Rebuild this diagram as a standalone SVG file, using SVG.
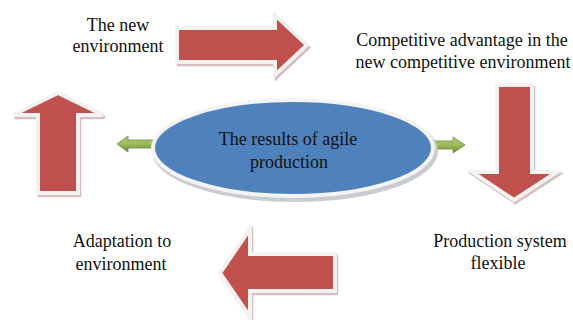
<svg xmlns="http://www.w3.org/2000/svg" width="573" height="320" viewBox="0 0 573 320">
<style>
.lbl{font-family:"Liberation Serif","Times New Roman",serif;font-size:18px;fill:#111;text-anchor:middle}
.red{fill:#C0504D;stroke:#F4F1F1;stroke-width:4;stroke-linejoin:miter}
.redsh{fill:#CDAEAE;stroke:#CDAEAE;stroke-width:3.5;opacity:0.8}
.grn{fill:url(#gg);stroke:#6E8A36;stroke-width:0.8}
</style>
<defs>
<linearGradient id="gg" x1="0" y1="0" x2="0" y2="1">
<stop offset="0" stop-color="#B5CF7A"/>
<stop offset="0.5" stop-color="#9BBB59"/>
<stop offset="1" stop-color="#6E8A36"/>
</linearGradient>
</defs>
<g id="connectors">
<g id="arrow-top">
<path class="redsh" transform="translate(1.5,2.5)" d="M177,28 L275,28 L275,15 L307,45 L275,75 L275,62 L177,62 Z"/>
<path class="red" d="M177,28 L275,28 L275,15 L307,45 L275,75 L275,62 L177,62 Z"/>
</g>
<g id="arrow-right">
<path class="redsh" transform="translate(1.5,2.5)" d="M497,85 L532,85 L532,172 L557,172 L514,200 L472,172 L497,172 Z"/>
<path class="red" d="M497,85 L532,85 L532,172 L557,172 L514,200 L472,172 L497,172 Z"/>
</g>
<g id="arrow-bottom">
<path class="redsh" transform="translate(1.5,2.5)" d="M335,254 L250,254 L250,229 L220,273 L250,317 L250,291 L335,291 Z"/>
<path class="red" d="M335,254 L250,254 L250,229 L220,273 L250,317 L250,291 L335,291 Z"/>
</g>
<g id="arrow-left">
<path class="redsh" transform="translate(1.5,2.5)" d="M38,193 L38,115 L13,115 L58,93 L103,115 L78,115 L78,193 Z"/>
<path class="red" d="M38,193 L38,115 L13,115 L58,93 L103,115 L78,115 L78,193 Z"/>
</g>
<path class="grn" d="M156,140 L128,140 L128,136 L117,144 L128,152 L128,148 L156,148 Z"/>
<path class="grn" d="M430,141 L453,141 L453,137 L465,145 L453,153 L453,149 L430,149 Z"/>
</g>
<g id="center">
<ellipse cx="295" cy="151" rx="141" ry="49" fill="#BFC3CA" stroke="#C9CCD2" stroke-width="4"/>
<ellipse cx="293" cy="148" rx="140" ry="48" fill="#4F81BD" stroke="#F4F4F4" stroke-width="4"/>
<text class="lbl" x="288" y="145">The results of agile</text>
<text class="lbl" x="289" y="168">production</text>
</g>
<g id="n-new">
<text class="lbl" x="118" y="31">The new</text>
<text class="lbl" x="118" y="52">environment</text>
</g>
<g id="n-competitive">
<text class="lbl" x="462" y="46">Competitive advantage in the</text>
<text class="lbl" x="463" y="68">new competitive environment</text>
</g>
<g id="n-flexible">
<text class="lbl" x="500" y="247">Production system</text>
<text class="lbl" x="498" y="269">flexible</text>
</g>
<g id="n-adapt">
<text class="lbl" x="122" y="247">Adaptation to</text>
<text class="lbl" x="121" y="270">environment</text>
</g>
</svg>
